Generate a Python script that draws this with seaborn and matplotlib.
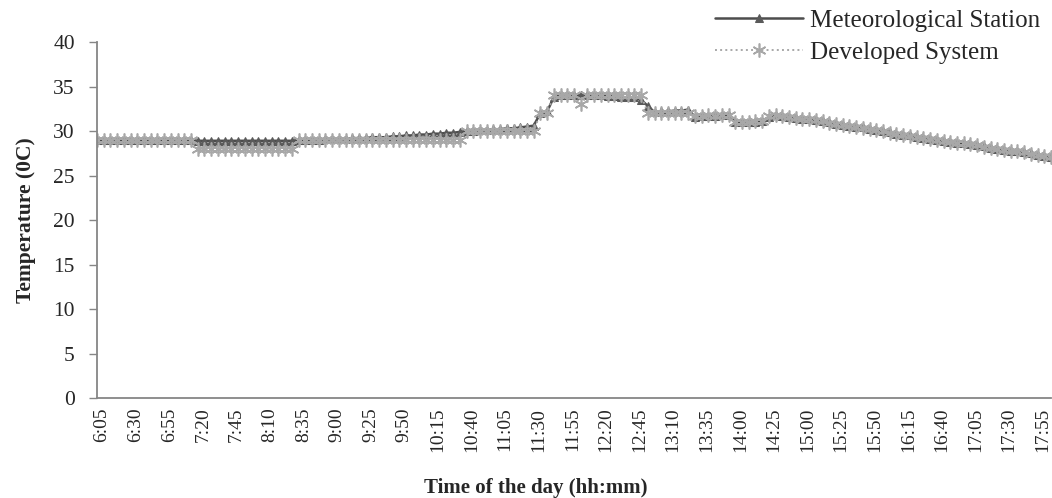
import numpy as np
import pandas as pd
import seaborn as sns
import matplotlib.pyplot as plt


# readings every 5 min starting 6:05, tick label on every 5th reading
met_station = (
    [29.0] * 15 + [28.9] * 15
    + [29.0, 29.0, 29.0, 29.0, 29.1, 29.1, 29.1, 29.1, 29.2, 29.2, 29.2, 29.3, 29.3,
       29.3, 29.4, 29.4, 29.5, 29.5, 29.6, 29.6, 29.7, 29.7, 29.8, 29.8, 29.9]
    + [30.0, 30.0, 30.1, 30.1, 30.2, 30.2, 30.3, 30.3, 30.4, 30.5, 30.6]
    + [32.0, 32.2]
    + [33.8, 34.0, 34.0, 34.0, 34.0, 34.0, 34.0, 34.0, 33.9, 33.9, 33.8, 33.8, 33.8]
    + [33.5, 32.8, 32.1, 32.2, 32.2, 32.3, 32.3, 32.4]
    + [31.6, 31.7, 31.7, 31.7, 31.8, 31.8]
    + [31.0, 31.0, 31.0, 31.0, 31.1]
    + [31.6, 31.8, 31.7, 31.6, 31.5, 31.4, 31.3, 31.2, 31.1, 31.0, 30.8, 30.7, 30.6,
       30.5, 30.4, 30.2, 30.1, 30.0, 29.9, 29.7, 29.6, 29.5, 29.3, 29.2, 29.1, 29.0,
       28.9, 28.8, 28.7, 28.6, 28.5, 28.4, 28.3, 28.1, 28.0, 27.9, 27.8, 27.7, 27.6,
       27.5, 27.3, 27.2, 27.1]
)

developed = (
    [29.0] * 15 + [28.0] * 15 + [29.0] * 25
    + [30.0] * 11
    + [32.0, 32.0]
    + [34.0, 34.0, 34.0, 34.0, 33.0, 34.0, 34.0, 34.0, 34.0, 34.0, 34.0, 34.0, 34.0]
    + [34.0, 32.0, 32.0, 32.0, 32.0, 32.0, 32.0, 32.0]
    + [31.7, 31.7, 31.8, 31.7, 31.8, 31.8]
    + [31.0, 31.0, 31.0, 31.1, 31.1]
    + [31.7, 31.8, 31.7, 31.6, 31.5, 31.4, 31.3, 31.2, 31.1, 30.9, 30.8, 30.7, 30.6,
       30.5, 30.3, 30.2, 30.1, 30.0, 29.8, 29.7, 29.6, 29.4, 29.3, 29.2, 29.1, 29.0,
       28.9, 28.8, 28.7, 28.6, 28.5, 28.4, 28.2, 28.1, 28.0, 27.9, 27.8, 27.7, 27.6,
       27.4, 27.3, 27.2, 27.1]
)

tick_labels = ['6:05', '6:30', '6:55', '7:20', '7:45', '8:10', '8:35', '9:00', '9:25',
               '9:50', '10:15', '10:40', '11:05', '11:30', '11:55', '12:20', '12:45',
               '13:10', '13:35', '14:00', '14:25', '15:00', '15:25', '15:50', '16:15',
               '16:40', '17:05', '17:30', '17:55']

assert len(met_station) == len(developed)

df = pd.DataFrame({'slot': np.arange(len(met_station)),
                   'met': met_station,
                   'dev': developed})

sns.set_style('white')
plt.rcParams['font.family'] = ['Liberation Serif', 'DejaVu Serif']

fig, ax = plt.subplots(figsize=(10.52, 4.98), dpi=100)
fig.subplots_adjust(left=97 / 1052, right=1051 / 1052, bottom=100 / 498, top=456 / 498)

sns.lineplot(data=df, x='slot', y='met', ax=ax, color='#4d4d4d', linewidth=1.8,
             marker='^', markersize=6, markeredgecolor='#5a5a5a',
             markerfacecolor='#5a5a5a', label='Meteorological Station')
sns.lineplot(data=df, x='slot', y='dev', ax=ax, color='#a8a8a8', linewidth=1.4,
             linestyle=':', marker=(6, 2, 0), markersize=10,
             markeredgecolor='#a8a8a8', markeredgewidth=1.2, label='Developed System')

ax.set_xlim(0, len(met_station) - 1)
ax.set_ylim(0, 40)
ax.set_yticks(range(0, 41, 5))
# labels sit a little right of their reading, like the original
ax.set_xticks(df['slot'][::5][:len(tick_labels)] + 0.75)
ax.set_xticklabels(tick_labels, rotation=90, fontsize=14)
ax.tick_params(axis='y', labelsize=15.5, length=6, width=1, color='#868686',
               direction='out', pad=10, left=True)
ax.tick_params(axis='x', length=0, pad=7)

for side in ['top', 'right']:
    ax.spines[side].set_visible(False)
for side in ['left', 'bottom']:
    ax.spines[side].set_color('#868686')
    ax.spines[side].set_linewidth(1.3)

ax.set_xlabel('Time of the day (hh:mm)', fontsize=15, fontweight='bold', labelpad=10)
ax.xaxis.set_label_coords(0.46, -0.225)
ax.set_ylabel('Temperature (0C)', fontsize=15.5, fontweight='bold', labelpad=12)

ax.legend(loc='upper right', bbox_to_anchor=(1.003, 1.012), bbox_transform=fig.transFigure,
          frameon=False, fontsize=18, handlelength=3.5, borderpad=0.1,
          labelspacing=0.4, handletextpad=0.3)

plt.savefig('out.png', dpi=100)
